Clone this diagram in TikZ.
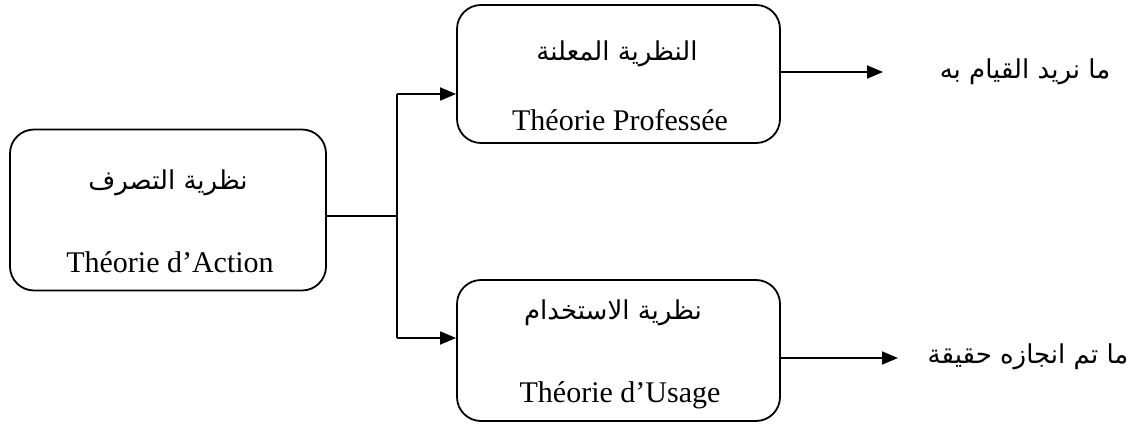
\documentclass[tikz,border=0pt]{standalone}
\usepackage{fontspec}
\setmainfont{Liberation Serif}
\newfontfamily\arabicfont[Script=Arabic]{DejaVu Sans}
\TeXXeTstate=1
\usetikzlibrary{arrows.meta}

\begin{document}
\begin{tikzpicture}[x=1pt,y=-1pt,
  box/.style={draw, line width=1.8pt, rounded corners=24pt, inner sep=0pt},
  latin/.style={font=\fontsize{30}{34}\selectfont, inner sep=0pt},
  arab/.style={font=\fontsize{26}{30}\selectfont\arabicfont, inner sep=0pt},
  link/.style={line width=1.8pt},
  arrowlink/.style={link, -{Triangle[length=16pt,width=13pt]}}]
  \useasboundingbox (0,0) rectangle (1133,425);

  % boxes
  \node[box, minimum width=316pt, minimum height=161pt] (act) at (168,210) {};
  \node[box, minimum width=323pt, minimum height=138pt] (pro) at (618.5,74) {};
  \node[box, minimum width=323pt, minimum height=141pt] (use) at (618.5,350.5) {};

  % box texts
  \node[arab]  (actar) at (168,183) {\beginR نظرية التصرف\endR};
  \node[latin] (actfr) at (170,262) {Théorie d’Action};
  \node[arab]  (proar) at (617,54)  {\beginR النظرية المعلنة\endR};
  \node[latin] (profr) at (620,120) {Théorie Professée};
  \node[arab]  (usear) at (613,313) {\beginR نظرية الاستخدام\endR};
  \node[latin] (usefr) at (620,395) {Théorie d’Usage};

  % outcome labels
  \node[arab] (want) at (1025,72)  {\beginR ما نريد القيام به\endR};
  \node[arab] (done) at (1028,357) {\beginR ما تم انجازه حقيقة\endR};

  % fork from the action box
  \coordinate (fork) at (397,216);
  \coordinate (forktop) at (397,94);
  \coordinate (forkbot) at (397,338);
  \draw[link] (act.east |- fork) -- (fork);
  \draw[link] (forktop) -- (forkbot);
  \draw[arrowlink] (forktop) -- (pro.west |- forktop);
  \draw[arrowlink] (forkbot) -- (use.west |- forkbot);

  % outcome arrows
  \coordinate (wantend) at (883,72);
  \coordinate (doneend) at (898,358);
  \draw[arrowlink] (pro.east |- wantend) -- (wantend);
  \draw[arrowlink] (use.east |- doneend) -- (doneend);
\end{tikzpicture}
\end{document}
